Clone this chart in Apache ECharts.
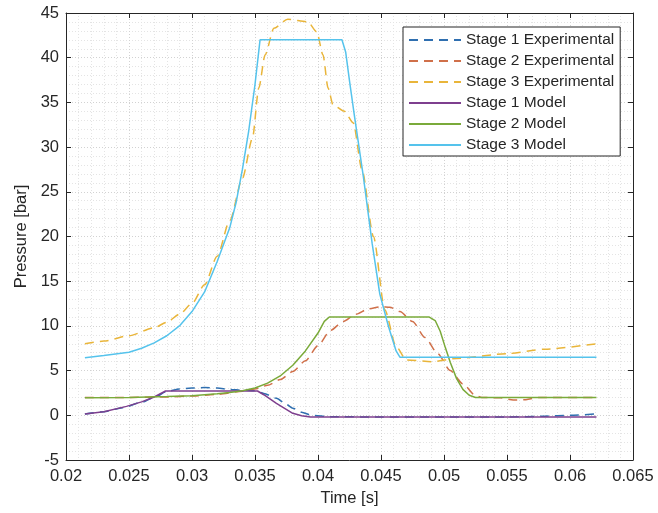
<!DOCTYPE html>
<html>
<head>
<meta charset="utf-8">
<script src="https://cdn.jsdelivr.net/npm/echarts@6/dist/echarts.min.js"></script>
<style>
    html, body { margin: 0; padding: 0; background: #fff; }
    #chart { width: 658px; height: 513px; }
</style>
</head>
<body>
<div id="chart"></div>
<script>
// [time s, pressure bar]
let stage1Exp = [
    [0.0215, 0.15], [0.023, 0.4], [0.0245, 0.85], [0.026, 1.45], [0.027, 2.0], [0.028, 2.65],
    [0.029, 2.95], [0.030, 3.05], [0.031, 3.1], [0.032, 3.05], [0.033, 2.9], [0.034, 2.8],
    [0.035, 2.75], [0.0357, 2.45], [0.0367, 1.9], [0.0375, 1.2], [0.038, 0.8], [0.0387, 0.35],
    [0.0395, 0.0], [0.041, -0.15], [0.045, -0.2], [0.050, -0.2], [0.055, -0.2], [0.058, -0.1],
    [0.060, 0.0], [0.0621, 0.15]
];
let stage2Exp = [
    [0.0215, 2.0], [0.025, 2.0], [0.028, 2.05], [0.030, 2.15], [0.032, 2.35], [0.034, 2.7],
    [0.035, 2.95], [0.036, 3.35], [0.037, 4.0], [0.038, 4.9], [0.039, 6.1], [0.040, 7.8],
    [0.041, 9.5], [0.042, 10.5], [0.043, 11.3], [0.044, 11.9], [0.045, 12.15], [0.0457, 12.1],
    [0.0465, 11.6], [0.0475, 10.5], [0.0485, 8.7], [0.0495, 6.9], [0.0505, 5.0], [0.0515, 3.5],
    [0.0525, 2.2], [0.053, 2.0], [0.0545, 1.95], [0.0555, 1.7], [0.0565, 1.75], [0.0575, 2.0],
    [0.0621, 2.0]
];
let stage3Exp = [
    [0.0215, 8.0], [0.023, 8.3], [0.025, 8.9], [0.027, 9.8], [0.028, 10.4], [0.029, 11.3],
    [0.030, 12.5], [0.031, 14.6], [0.032, 17.8], [0.033, 21.8], [0.034, 26.5], [0.0348, 31.0],
    [0.0353, 36.6], [0.0358, 40.3], [0.0365, 43.3], [0.0376, 44.3], [0.0392, 44.0], [0.0399, 42.9],
    [0.0404, 40.3], [0.0408, 36.6], [0.0412, 34.7], [0.0421, 34.0], [0.0428, 32.7], [0.0435, 27.4],
    [0.0444, 20.0], [0.0453, 11.8], [0.0462, 7.7], [0.047, 6.2], [0.049, 6.0], [0.051, 6.35],
    [0.055, 6.9], [0.058, 7.4], [0.0621, 8.0]
];
let stage1Model = [
    [0.0215, 0.15], [0.023, 0.4], [0.0248, 1.0], [0.026, 1.5], [0.027, 2.05], [0.0279, 2.72],
    [0.0352, 2.72], [0.0357, 2.3], [0.0367, 1.34], [0.038, 0.22], [0.0387, -0.05], [0.0394, -0.2],
    [0.0621, -0.18]
];
let stage2Model = [
    [0.0215, 1.95], [0.025, 2.0], [0.028, 2.1], [0.030, 2.2], [0.032, 2.4], [0.033, 2.55],
    [0.034, 2.75], [0.035, 3.05], [0.036, 3.6], [0.037, 4.4], [0.038, 5.6], [0.039, 7.2],
    [0.040, 9.2], [0.0405, 10.5], [0.0409, 11.0], [0.0488, 11.0], [0.0493, 10.6], [0.0497, 9.4],
    [0.0501, 7.6], [0.0505, 5.9], [0.051, 4.1], [0.0515, 2.9], [0.052, 2.25], [0.0525, 2.0],
    [0.0621, 2.0]
];
let stage3Model = [
    [0.0215, 6.45], [0.023, 6.7], [0.025, 7.05], [0.026, 7.5], [0.027, 8.1], [0.028, 8.9],
    [0.029, 10.0], [0.030, 11.6], [0.031, 13.8], [0.032, 17.2], [0.033, 21.0], [0.0335, 23.8],
    [0.034, 27.5], [0.0345, 31.8], [0.035, 37.0], [0.0354, 42.0], [0.0419, 42.0], [0.0422, 40.6],
    [0.0425, 37.4], [0.0429, 33.4], [0.0436, 26.7], [0.0443, 19.2], [0.0449, 13.6], [0.0456, 9.9],
    [0.0462, 7.2], [0.0465, 6.5], [0.0621, 6.5]
];

let seriesNames = [
    "Stage 1 Experimental", "Stage 2 Experimental", "Stage 3 Experimental",
    "Stage 1 Model", "Stage 2 Model", "Stage 3 Model"
];
let seriesData = [stage1Exp, stage2Exp, stage3Exp, stage1Model, stage2Model, stage3Model];
let seriesColors = ["#2f6fb0", "#d0704a", "#e9b53a", "#7e3f8e", "#7aaa3a", "#55c3ec"];

let axisColor = "#262626";
let labelFont = "Liberation Sans";

function edgeAxis(extra) {
    return Object.assign({
        type: "value",
        axisLine: { show: true, onZero: false, lineStyle: { color: axisColor, width: 1 } },
        axisTick: { show: true, inside: true, length: 5, lineStyle: { color: axisColor } },
        axisLabel: { show: false },
        splitLine: { show: false },
    }, extra);
}

let chart = echarts.init(document.getElementById("chart"));
let option = {
    animation: false,
    backgroundColor: "#fff",
    grid: {
        left: 66,
        right: 25,
        top: 13,
        bottom: 53,
        show: true,
        backgroundColor: "#fff",
        borderWidth: 0,
    },
    legend: {
        orient: "vertical",
        left: 403,
        top: 27,
        padding: [5, 6, 3, 5],
        backgroundColor: "#fff",
        borderColor: axisColor,
        borderWidth: 1,
        borderRadius: 0,
        itemWidth: 52,
        itemHeight: 14,
        itemGap: 5,
        itemStyle: { opacity: 0 },
        data: seriesNames,
        textStyle: {
            fontFamily: labelFont,
            fontSize: 15.5,
            color: axisColor,
            lineHeight: 16,
        },
    },
    xAxis: [
        edgeAxis({
            min: 0.02,
            max: 0.065,
            interval: 0.005,
            name: "Time [s]",
            nameLocation: "middle",
            nameGap: 29,
            nameTextStyle: { fontFamily: labelFont, fontSize: 16.5, color: axisColor },
            axisLabel: { show: true, margin: 8, fontFamily: labelFont, fontSize: 16.5, color: axisColor },
            minorTick: { show: false, splitNumber: 5 },
            splitLine: { show: true, lineStyle: { color: "#d2d2d2", type: [1, 2] } },
            minorSplitLine: { show: true, lineStyle: { color: "#e4e4e4", type: [1, 2] } },
        }),
        edgeAxis({ position: "top", min: 0.02, max: 0.065, interval: 0.005 }),
    ],
    yAxis: [
        edgeAxis({
            min: -5,
            max: 45,
            interval: 5,
            name: "Pressure [bar]",
            nameLocation: "middle",
            nameGap: 36,
            nameTextStyle: { fontFamily: labelFont, fontSize: 16.5, color: axisColor },
            axisLabel: { show: true, margin: 7, fontFamily: labelFont, fontSize: 16.5, color: axisColor },
            minorTick: { show: false, splitNumber: 5 },
            splitLine: { show: true, lineStyle: { color: "#d2d2d2", type: [1, 2] } },
            minorSplitLine: { show: true, lineStyle: { color: "#e4e4e4", type: [1, 2] } },
        }),
        edgeAxis({ position: "right", min: -5, max: 45, interval: 5 }),
    ],
    series: seriesNames.map(function (name, i) {
        let dashed = i < 3;
        return {
            name: name,
            type: "line",
            xAxisIndex: 0,
            yAxisIndex: 0,
            data: seriesData[i],
            symbol: "none",
            showSymbol: false,
            smooth: dashed ? 0.25 : false,
            smoothMonotone: "x",
            color: seriesColors[i],
            lineStyle: {
                color: seriesColors[i],
                width: 1.5,
                type: dashed ? [9, 6] : "solid",
            },
        };
    }),
};
chart.setOption(option);
</script>
</body>
</html>
